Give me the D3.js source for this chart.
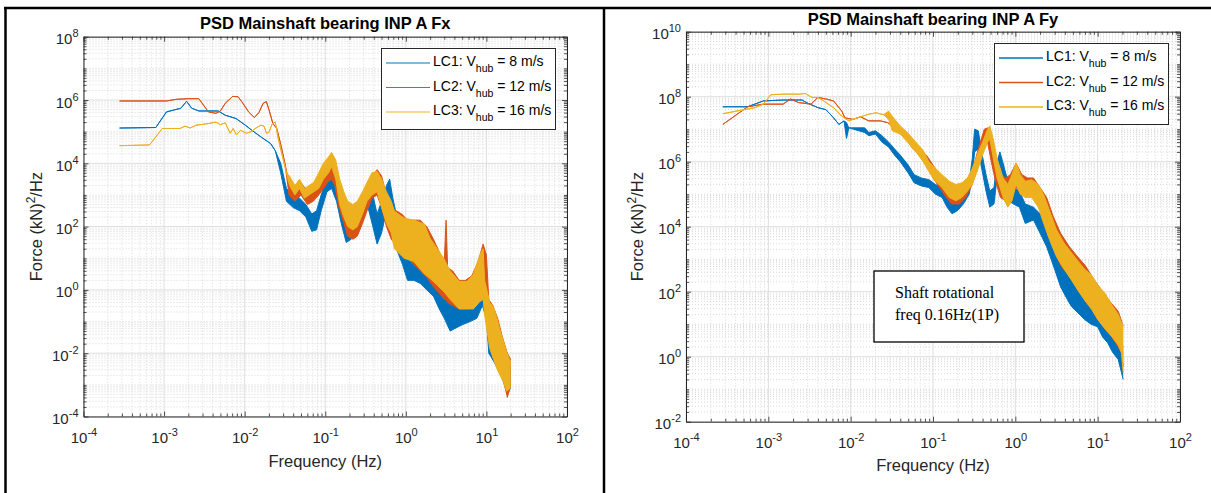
<!DOCTYPE html>
<html>
<head>
<meta charset="utf-8">
<script src="https://cdn.jsdelivr.net/npm/d3@7/dist/d3.min.js"></script>
<style>
html,body{margin:0;padding:0;background:#fff;}
svg{display:block;}
</style>
</head>
<body>
<svg id="chart" width="1211" height="493"></svg>
<script>
// ---------------- DATA ----------------
const seriesNames = ["LC1", "LC2", "LC3"];
const hubSpeeds = ["8", "12", "16"];
const seriesColors = ["#0072BD", "#D95319", "#EDB120"];
const xTickExps = [-4, -3, -2, -1, 0, 1, 2];
const fxTickExps = [-4, -2, 0, 2, 4, 6, 8];
const fyTickExps = [-2, 0, 2, 4, 6, 8, 10];
const titles = ["PSD Mainshaft bearing INP A Fx", "PSD Mainshaft bearing INP A Fy"];
const noteLines = ["Shaft rotational", "freq 0.16Hz(1P)"];

// [frequency Hz, lower envelope, upper envelope]  ((kN)^2/Hz)
const fxLC1 = [[2.8e-4,1.3e5,1.3e5],[7.9e-4,1.35e5,1.35e5],[1.07e-3,4.2e5,4.2e5],[1.62e-3,5.5e5,5.5e5],[1.9e-3,9.1e5,9.1e5],[2.2e-3,5.5e5,5.5e5],[2.7e-3,4.5e5,4.5e5],[4.7e-3,4.5e5,4.5e5],[5.75e-3,3.3e5,3.3e5],[7.8e-3,2.6e5,2.6e5],[1.02e-2,1.6e5,1.6e5],[1.23e-2,1.1e5,1.1e5],[1.62e-2,6.6e4,6.6e4],[2.1e-2,4.2e4,4.2e4],[2.4e-2,2.5e4,2.5e4],[2.8e-2,5.0e3,1.0e4],[3.3e-2,6.3e2,1.6e3],[4.0e-2,4.0e2,1.0e3],[4.8e-2,3.16e2,7.9e2],[5.75e-2,2.0e2,5.0e2],[6.8e-2,7.1e1,2.5e2],[7.8e-2,7.9e1,3.16e2],[8.9e-2,3.16e2,1.0e3],[0.105,1.26e3,3.55e3],[0.12,1.6e3,4.5e3],[0.138,6.3e2,2.0e3],[0.158,1.26e2,5.0e2],[0.182,3.16e1,1.6e2],[0.21,4.0e1,1.6e2],[0.24,7.9e1,3.16e2],[0.29,2.0e2,1.0e3],[0.34,4.0e2,2.0e3],[0.39,1.0e2,1.0e3],[0.44,2.8e1,2.5e2],[0.5,6.3e1,6.3e2],[0.575,3.16e2,2.0e3],[0.63,6.3e2,3.16e3],[0.69,7.9e1,7.9e2],[0.79,1.6e1,1.6e2],[0.91,6.3,6.3e1],[1.05,2.0,3.16e1],[1.26,2.0,2.5e1],[1.51,1.6,2.0e1],[1.82,1.0,1.26e1],[2.2,0.63,6.3],[2.6,0.25,3.16],[3.0,0.126,1.6],[3.55,0.05,0.79],[4.2,0.063,0.63],[5.0,0.079,0.63],[6.3,0.1,0.79],[7.6,0.126,1.6],[8.9,0.32,6.3],[10,0.126,2.0],[10.7,0.01,0.16],[12.6,0.005,0.079],[14.5,0.0025,0.032],[16.2,0.00126,0.0126],[18.2,0.0005,0.005],[20,0.0008,0.004]];
const fxLC2 = [[2.8e-4,9.3e5,9.3e5],[1.07e-3,9.3e5,9.3e5],[1.41e-3,1.05e6,1.05e6],[2.0e-3,1.1e6,1.1e6],[2.7e-3,1.1e6,1.1e6],[3.16e-3,6.3e5,6.3e5],[3.55e-3,4.2e5,4.2e5],[4.4e-3,3.8e5,3.8e5],[5.0e-3,4.5e5,4.5e5],[5.75e-3,7.9e5,7.9e5],[7.1e-3,1.3e6,1.3e6],[8.3e-3,1.26e6,1.26e6],[9.5e-3,7.9e5,7.9e5],[1.12e-2,4.2e5,4.2e5],[1.32e-2,2.8e5,2.8e5],[1.5e-2,4.0e5,4.0e5],[1.7e-2,7.9e5,7.9e5],[1.86e-2,8.9e5,8.9e5],[2.0e-2,5.0e5,5.0e5],[2.24e-2,1.8e5,1.8e5],[2.5e-2,1.26e5,1.26e5],[2.8e-2,4.0e4,4.0e4],[3.16e-2,1.0e4,1.0e4],[3.55e-2,1.0e3,2.5e3],[4.2e-2,6.3e2,1.6e3],[5.0e-2,1.0e3,2.5e3],[6.0e-2,5.0e2,1.26e3],[7.1e-2,6.3e2,1.6e3],[8.3e-2,1.0e3,2.5e3],[9.5e-2,1.6e3,5.0e3],[0.107,2.5e3,7.9e3],[0.12,3.16e3,1.0e4],[0.132,2.0e3,7.9e3],[0.148,4.0e2,2.0e3],[0.166,1.6e2,7.9e2],[0.19,5.0e1,4.0e2],[0.22,4.0e1,2.5e2],[0.25,5.0e1,3.16e2],[0.29,1.26e2,7.9e2],[0.33,3.16e2,2.0e3],[0.38,7.9e2,4.0e3],[0.44,1.0e3,6.3e3],[0.5,4.0e2,4.0e3],[0.575,1.0e2,1.0e3],[0.66,4.0e1,4.0e2],[0.76,2.5e1,3.16e2],[0.89,1.6e1,2.5e2],[1.05,1.0e1,1.6e2],[1.26,6.3,1.6e2],[1.51,4.0,1.6e2],[1.82,2.5,1.0e2],[2.2,1.26,4.0e1],[2.6,0.79,1.6e1],[3.0,0.5,7.9],[3.16,0.5,1.6e2],[3.3,0.4,5.0],[3.8,0.32,4.0],[4.6,0.25,2.0],[5.5,0.25,2.0],[6.6,0.28,2.8],[7.9,0.4,7.9],[9.1,0.5,2.8e1],[10,0.25,1.26e1],[10.7,0.04,0.5],[12,0.016,0.32],[13.8,0.005,0.126],[15.8,0.002,0.032],[18.2,0.0004,0.01],[20,0.001,0.0063]];
const fxLC3 = [[2.8e-4,3.6e4,3.6e4],[6.6e-4,3.8e4,3.8e4],[9.5e-4,1.26e5,1.26e5],[1.58e-3,1.26e5,1.26e5],[1.82e-3,1.5e5,1.5e5],[2.1e-3,1.3e5,1.3e5],[2.5e-3,1.6e5,1.6e5],[3.55e-3,1.8e5,1.8e5],[4.4e-3,2.0e5,2.0e5],[5.0e-3,1.66e5,1.66e5],[5.75e-3,1.9e5,1.9e5],[6.6e-3,8.9e4,8.9e4],[7.2e-3,1.26e5,1.26e5],[7.9e-3,7.9e4,7.9e4],[8.9e-3,1.1e5,1.1e5],[1.05e-2,8.9e4,8.9e4],[1.2e-2,1.0e5,1.0e5],[1.38e-2,1.3e5,1.3e5],[1.58e-2,1.6e5,1.6e5],[1.74e-2,1.5e5,1.5e5],[1.86e-2,8.9e4,8.9e4],[2.0e-2,9.5e4,9.5e4],[2.2e-2,1.8e5,1.8e5],[2.4e-2,2.0e5,2.0e5],[2.6e-2,6.3e4,6.3e4],[2.95e-2,1.6e4,1.6e4],[3.3e-2,5.0e3,5.0e3],[3.6e-2,2.0e3,4.0e3],[4.2e-2,1.0e3,2.0e3],[4.8e-2,1.6e3,3.16e3],[5.5e-2,7.9e2,1.6e3],[6.3e-2,1.0e3,2.0e3],[7.2e-2,1.26e3,2.5e3],[8.3e-2,1.6e3,5.0e3],[9.5e-2,3.16e3,1.0e4],[0.11,5.0e3,1.6e4],[0.12,7.9e3,2.2e4],[0.135,3.16e3,1.26e4],[0.151,5.0e2,3.16e3],[0.17,2.0e2,1.26e3],[0.19,1.0e2,6.3e2],[0.22,7.9e1,5.0e2],[0.25,1.0e2,6.3e2],[0.29,2.5e2,1.26e3],[0.33,6.3e2,2.5e3],[0.38,1.0e3,5.0e3],[0.44,1.26e3,5.6e3],[0.5,4.0e2,3.16e3],[0.575,1.26e2,1.26e3],[0.66,6.3e1,6.3e2],[0.72,2.0e1,3.1e2],[0.95,1.0e1,1.86e2],[1.26,7.9,1.6e2],[1.7,3.16,1.2e2],[2.0,2.3,4.3e1],[2.95,0.89,1.0e1],[3.55,0.5,4.0],[4.6,0.25,1.86],[5.75,0.25,1.86],[6.9,0.25,3.1],[8.3,0.43,1.3e1],[9.1,0.5,2.0e1],[9.5,0.16,2.0],[11,0.014,0.4],[12.3,0.0063,0.28],[13.5,0.0032,0.13],[14.5,0.0022,0.063],[16.2,0.00126,0.025],[17.8,0.00063,0.011],[20,0.0008,0.005]];

const fyLC1 = [[2.8e-4,4.9e7,4.9e7],[5.6e-4,4.9e7,4.9e7],[8.7e-4,7.4e7,7.4e7],[1.51e-3,7.9e7,7.9e7],[2.57e-3,7.9e7,7.9e7],[2.9e-3,6.6e7,6.6e7],[4.0e-3,4.6e7,4.6e7],[5.0e-3,4.0e7,4.0e7],[6.2e-3,2.24e7,2.24e7],[7.2e-3,1.4e7,1.4e7],[8.3e-3,1.8e7,1.8e7],[8.9e-3,5.2e6,1.6e7],[9.5e-3,1.1e7,1.1e7],[1.26e-2,8.9e6,1.1e7],[1.48e-2,7.9e6,1.1e7],[1.66e-2,6.3e6,7.9e6],[2.0e-2,7.1e6,8.9e6],[2.4e-2,4.0e6,6.3e6],[2.9e-2,2.8e6,4.0e6],[3.4e-2,1.6e6,2.5e6],[4.0e-2,1.0e6,1.6e6],[5.0e-2,4.5e5,7.9e5],[5.9e-2,2.24e5,4.0e5],[7.2e-2,1.8e5,3.16e5],[8.9e-2,1.6e5,2.8e5],[0.107,1.0e5,2.0e5],[0.129,7.9e4,1.6e5],[0.148,4.0e4,1.0e5],[0.17,2.5e4,6.3e4],[0.2,3.16e4,6.3e4],[0.234,5.0e4,1.26e5],[0.275,1.0e5,2.5e5],[0.3,3.16e5,1.26e6],[0.32,2.0e6,1.0e7],[0.355,2.5e6,8.9e6],[0.39,6.3e5,2.0e6],[0.44,1.26e5,4.0e5],[0.49,4.0e4,1.26e5],[0.55,5.0e4,1.6e5],[0.6,3.16e5,1.0e6],[0.65,7.9e5,2.0e6],[0.72,2.5e5,7.9e5],[0.83,6.3e4,2.0e5],[0.95,5.0e4,1.6e5],[1.12,4.0e4,1.26e5],[1.32,1.26e4,5.0e4],[1.66,1.6e4,4.0e4],[2.0,6.3e3,2.5e4],[2.4,2.4e3,1.26e4],[2.9,6.3e2,4.0e3],[3.55,1.4e2,2.0e3],[4.2,6.3e1,1.0e3],[4.8,3.5e1,5.0e2],[5.75,2.24e1,2.5e2],[6.9,1.4e1,1.26e2],[8.3,1.0e1,6.3e1],[10,8.3,3.16e1],[11.5,4.0,2.0e1],[13.2,2.7,1.26e1],[15.1,1.4,7.9],[17.8,0.81,4.0],[19.5,0.32,2.5],[20.4,0.2,2.0]];
const fyLC2 = [[2.8e-4,1.4e7,1.4e7],[5.6e-4,4.9e7,4.9e7],[8.7e-4,5.9e7,5.9e7],[1.51e-3,5.9e7,5.9e7],[1.86e-3,8.5e7,8.5e7],[2.34e-3,6.6e7,6.6e7],[3.3e-3,5.9e7,5.9e7],[4.0e-3,9.5e7,9.5e7],[5.0e-3,8.5e7,8.5e7],[6.2e-3,7.4e7,7.4e7],[7.8e-3,3.6e7,3.6e7],[8.5e-3,2.24e7,2.24e7],[1.07e-2,2.0e7,2.0e7],[1.32e-2,2.4e7,2.4e7],[1.66e-2,1.8e7,1.8e7],[2.3e-2,1.8e7,1.8e7],[2.8e-2,1.6e7,1.6e7],[3.55e-2,1.1e7,1.1e7],[4.4e-2,6.8e6,7.9e6],[5.5e-2,2.8e6,4.0e6],[6.8e-2,1.6e6,2.5e6],[8.3e-2,7.9e5,1.6e6],[0.1,3.16e5,7.9e5],[0.12,1.6e5,4.0e5],[0.145,7.9e4,2.5e5],[0.17,5.0e4,1.6e5],[0.21,5.0e4,1.6e5],[0.25,7.9e4,2.5e5],[0.3,2.0e5,5.0e5],[0.355,7.9e5,2.5e6],[0.42,3.16e6,1.0e7],[0.46,4.0e6,1.1e7],[0.51,1.0e6,4.0e6],[0.575,2.5e5,1.0e6],[0.66,7.9e4,4.0e5],[0.76,6.3e4,3.16e5],[0.87,7.9e4,4.0e5],[1.02,1.6e5,8.9e5],[1.2,1.0e5,4.0e5],[1.41,7.9e4,3.16e5],[1.66,1.0e5,3.16e5],[2.0,3.16e4,1.6e5],[2.4,7.9e3,7.9e4],[2.9,2.5e3,2.0e4],[3.55,6.3e2,6.3e3],[4.5,3.16e2,2.5e3],[5.6,1.6e2,1.26e3],[7.1,6.3e1,6.3e2],[8.9,2.5e1,2.5e2],[11.2,1.0e1,1.1e2],[14.1,5.0,5.0e1],[17.8,2.0,2.5e1],[19.5,1.26,1.26e1],[20.4,0.5,8.9]];
const fyLC3 = [[2.8e-4,3.0e7,3.0e7],[6.9e-4,4.6e7,4.6e7],[8.7e-4,5.9e7,5.9e7],[1.07e-3,1.15e8,1.15e8],[1.58e-3,1.2e8,1.2e8],[2.4e-3,1.2e8,1.2e8],[2.8e-3,1.26e8,1.26e8],[3.4e-3,9.5e7,9.5e7],[4.0e-3,9.5e7,9.5e7],[4.7e-3,7.4e7,7.4e7],[6.2e-3,4.6e7,4.6e7],[7.8e-3,2.5e7,2.5e7],[9.5e-3,1.8e7,1.8e7],[1.2e-2,2.24e7,2.24e7],[1.66e-2,2.9e7,2.9e7],[2.04e-2,3.2e7,3.2e7],[2.5e-2,2.8e7,2.8e7],[2.9e-2,2.0e7,3.6e7],[3.2e-2,8.9e6,2.5e7],[4.0e-2,7.1e6,1.26e7],[4.9e-2,4.0e6,7.9e6],[6.2e-2,2.0e6,4.0e6],[7.6e-2,1.0e6,2.24e6],[8.9e-2,5.0e5,1.0e6],[0.107,2.5e5,6.3e5],[0.129,1.6e5,4.0e5],[0.158,7.9e4,2.5e5],[0.19,6.3e4,2.0e5],[0.224,7.9e4,2.24e5],[0.263,1.26e5,3.16e5],[0.3,2.0e5,6.3e5],[0.355,6.3e5,2.0e6],[0.4,1.6e6,4.0e6],[0.46,4.0e6,1.0e7],[0.49,5.0e6,1.26e7],[0.54,1.26e6,5.0e6],[0.6,3.16e5,1.26e6],[0.71,7.9e4,3.16e5],[0.81,4.0e4,2.0e5],[0.91,6.3e4,4.0e5],[1.02,2.0e5,9.3e5],[1.15,1.0e5,4.0e5],[1.32,7.9e4,2.5e5],[1.58,7.9e4,2.8e5],[1.9,4.0e4,2.0e5],[2.2,1.3e4,1.0e5],[2.6,4.0e3,3.16e4],[3.16,1.2e3,8.1e3],[3.9,5.0e2,3.16e3],[4.8,2.3e2,1.6e3],[5.75,1.1e2,8.9e2],[6.9,5.6e1,5.0e2],[8.5,2.8e1,3.16e2],[10,1.4e1,1.6e2],[12.3,7.1,8.9e1],[14.8,4.2,4.0e1],[17.8,2.24,2.0e1],[19.5,1.3,1.1e1],[20.4,0.32,1.0e1]];

// ---------------- LAYOUT ----------------
const panels = [
  { title: titles[0], series: [fxLC1, fxLC2, fxLC3], yDomain: [1e-4, 1e8], yExps: fxTickExps,
    l: 83.5, r: 567, t: 36.7, b: 416.5, titleY: 29, xLabelY: 467, yLabelX: 42,
    legend: { x: 381, y: 48, w: 174, h: 81, lw: 1 }, note: null },
  { title: titles[1], series: [fyLC1, fyLC2, fyLC3], yDomain: [1e-2, 1e10], yExps: fyTickExps,
    l: 686, r: 1180, t: 31.7, b: 421.7, titleY: 25, xLabelY: 471, yLabelX: 643,
    legend: { x: 994, y: 43, w: 174, h: 81, lw: 1.3 }, note: { x: 874, y: 271, w: 150, h: 71 } }
];

const sansFont = "Liberation Sans, Arial, Helvetica, sans-serif";
const serifFont = "Liberation Serif, Times New Roman, serif";
const axisColor = "#262626";
const svg = d3.select("#chart").style("font-family", sansFont);
svg.append("rect").attr("width", 1211).attr("height", 493).attr("fill", "#fff");

function expStr(v) { const e = Math.round(Math.log10(v)); return (e < 0 ? "-" : "") + Math.abs(e); }

panels.forEach((p, pi) => {
  const g = svg.append("g");
  const x = d3.scaleLog().domain([1e-4, 1e2]).range([p.l, p.r]);
  const y = d3.scaleLog().domain(p.yDomain).range([p.b, p.t]);

  const xMajor = xTickExps.map(e => Math.pow(10, e));
  const xMinor = [];
  for (let e = xTickExps[0]; e < xTickExps[xTickExps.length - 1]; e++)
    for (let k = 2; k <= 9; k++) xMinor.push(k * Math.pow(10, e));
  const yMajor = p.yExps.map(e => Math.pow(10, e));
  const yMinor = [];
  for (let e = p.yExps[0]; e < p.yExps[p.yExps.length - 1]; e++)
    for (let k = 1; k <= 9; k++) {
      if (k === 1 && p.yExps.includes(e)) continue;
      yMinor.push(k * Math.pow(10, e));
    }

  g.append("rect").attr("x", p.l).attr("y", p.t).attr("width", p.r - p.l).attr("height", p.b - p.t).attr("fill", "#fff");

  // minor grid (dotted)
  const grid = g.append("g");
  grid.selectAll(".xm").data(xMinor).join("line")
    .attr("x1", d => x(d)).attr("x2", d => x(d)).attr("y1", p.t).attr("y2", p.b)
    .attr("stroke", "#cfcfcf").attr("stroke-width", 0.8).attr("stroke-dasharray", "1,2");
  grid.selectAll(".ym").data(yMinor).join("line")
    .attr("y1", d => y(d)).attr("y2", d => y(d)).attr("x1", p.l).attr("x2", p.r)
    .attr("stroke", "#cfcfcf").attr("stroke-width", 0.8).attr("stroke-dasharray", "1,2");
  // major grid
  grid.selectAll(".xM").data(xMajor).join("line")
    .attr("x1", d => x(d)).attr("x2", d => x(d)).attr("y1", p.t).attr("y2", p.b)
    .attr("stroke", "#dedede").attr("stroke-width", 1);
  grid.selectAll(".yM").data(yMajor).join("line")
    .attr("y1", d => y(d)).attr("y2", d => y(d)).attr("x1", p.l).attr("x2", p.r)
    .attr("stroke", "#dedede").attr("stroke-width", 1);

  // data
  const clipId = "clip" + pi;
  svg.append("clipPath").attr("id", clipId).append("rect")
    .attr("x", p.l).attr("y", p.t).attr("width", p.r - p.l).attr("height", p.b - p.t);
  const dg = g.append("g").attr("clip-path", `url(#${clipId})`);
  const area = d3.area().x(d => x(d[0])).y0(d => y(d[1])).y1(d => y(d[2]));
  const loLine = d3.line().x(d => x(d[0])).y(d => y(d[1]));
  const hiLine = d3.line().x(d => x(d[0])).y(d => y(d[2]));
  p.series.forEach((s, i) => {
    dg.append("path").datum(s).attr("d", area).attr("fill", seriesColors[i]).attr("stroke", "none");
    dg.append("path").datum(s).attr("d", loLine).attr("fill", "none").attr("stroke", seriesColors[i]).attr("stroke-width", 1).attr("stroke-linejoin", "round");
    dg.append("path").datum(s).attr("d", hiLine).attr("fill", "none").attr("stroke", seriesColors[i]).attr("stroke-width", 1).attr("stroke-linejoin", "round");
  });

  // axes (ticks inward on all four sides)
  const styleAxis = sel => {
    sel.select(".domain").attr("stroke", axisColor).attr("stroke-width", 1);
    sel.selectAll(".tick line").attr("stroke", axisColor).attr("stroke-width", 0.8);
  };
  const bottom = g.append("g").attr("transform", `translate(0,${p.b})`)
    .call(d3.axisBottom(x).tickValues(xMajor).tickSizeInner(-5).tickSizeOuter(0).tickFormat(() => "10"));
  bottom.call(styleAxis);
  bottom.selectAll("text").attr("y", 26.5).attr("dy", null).attr("fill", axisColor)
    .attr("font-size", 15).attr("font-family", sansFont)
    .each(function (d) { d3.select(this).append("tspan").attr("dy", -7).attr("font-size", 11).text(expStr(d)); });
  g.append("g").attr("transform", `translate(0,${p.b})`)
    .call(d3.axisBottom(x).tickValues(xMinor).tickSizeInner(-3).tickSizeOuter(0).tickFormat(""))
    .call(styleAxis).select(".domain").remove();

  g.append("g").attr("transform", `translate(0,${p.t})`)
    .call(d3.axisTop(x).tickValues(xMajor).tickSizeInner(-5).tickSizeOuter(0).tickFormat(""))
    .call(styleAxis);
  g.append("g").attr("transform", `translate(0,${p.t})`)
    .call(d3.axisTop(x).tickValues(xMinor).tickSizeInner(-3).tickSizeOuter(0).tickFormat(""))
    .call(styleAxis).select(".domain").remove();

  const left = g.append("g").attr("transform", `translate(${p.l},0)`)
    .call(d3.axisLeft(y).tickValues(yMajor).tickSizeInner(-5).tickSizeOuter(0).tickFormat(() => "10"));
  left.call(styleAxis);
  left.selectAll("text").attr("x", -5).attr("dy", null).attr("y", 7).attr("fill", axisColor)
    .attr("font-size", 15).attr("font-family", sansFont)
    .each(function (d) { d3.select(this).append("tspan").attr("dy", -7).attr("font-size", 11).text(expStr(d)); });
  g.append("g").attr("transform", `translate(${p.l},0)`)
    .call(d3.axisLeft(y).tickValues(yMinor).tickSizeInner(-3).tickSizeOuter(0).tickFormat(""))
    .call(styleAxis).select(".domain").remove();

  g.append("g").attr("transform", `translate(${p.r},0)`)
    .call(d3.axisRight(y).tickValues(yMajor).tickSizeInner(-5).tickSizeOuter(0).tickFormat(""))
    .call(styleAxis);
  g.append("g").attr("transform", `translate(${p.r},0)`)
    .call(d3.axisRight(y).tickValues(yMinor).tickSizeInner(-3).tickSizeOuter(0).tickFormat(""))
    .call(styleAxis).select(".domain").remove();

  // title
  g.append("text").attr("x", (p.l + p.r) / 2).attr("y", p.titleY).attr("text-anchor", "middle")
    .attr("font-size", 16.5).attr("font-weight", "bold").attr("fill", "#000").text(p.title);
  // x label
  g.append("text").attr("x", (p.l + p.r) / 2).attr("y", p.xLabelY).attr("text-anchor", "middle")
    .attr("font-size", 16.5).attr("fill", axisColor).text("Frequency (Hz)");
  // y label
  const yl = g.append("text").attr("transform", `translate(${p.yLabelX},${(p.t + p.b) / 2}) rotate(-90)`)
    .attr("text-anchor", "middle").attr("font-size", 16.5).attr("fill", axisColor);
  yl.append("tspan").text("Force (kN)");
  yl.append("tspan").attr("dy", -7).attr("font-size", 12).text("2");
  yl.append("tspan").attr("dy", 7).text("/Hz");

  // legend
  const L = p.legend;
  const lg = g.append("g");
  lg.append("rect").attr("x", L.x + 0.5).attr("y", L.y + 0.5).attr("width", L.w).attr("height", L.h)
    .attr("fill", "#fff").attr("stroke", axisColor).attr("stroke-width", 1);
  const rowOff = [15, 39.5, 64];
  seriesNames.forEach((name, i) => {
    const ly = L.y + rowOff[i];
    lg.append("line").attr("x1", L.x + 5).attr("x2", L.x + 49).attr("y1", ly).attr("y2", ly)
      .attr("stroke", seriesColors[i]).attr("stroke-width", L.lw);
    const t = lg.append("text").attr("x", L.x + 52).attr("y", ly + 3).attr("font-size", 14).attr("fill", "#000");
    t.append("tspan").text(name + ": V");
    t.append("tspan").attr("dy", 6).attr("font-size", 10.5).text("hub");
    t.append("tspan").attr("dy", -6).text(" = " + hubSpeeds[i] + " m/s");
  });

  // annotation box
  if (p.note) {
    const N = p.note;
    g.append("rect").attr("x", N.x).attr("y", N.y).attr("width", N.w).attr("height", N.h)
      .attr("fill", "#fff").attr("stroke", "#000").attr("stroke-width", 1.3);
    noteLines.forEach((s, i) => {
      g.append("text").attr("x", N.x + 21).attr("y", N.y + 27 + i * 22)
        .style("font-family", serifFont).attr("font-size", 16)
        .attr("fill", "#000").text(s);
    });
  }
});

// outer frame (table borders)
const frame = svg.append("g").attr("stroke", "#000").attr("stroke-width", 2.5);
frame.append("line").attr("x1", 4).attr("x2", 1211).attr("y1", 8).attr("y2", 8);
frame.append("line").attr("x1", 5.5).attr("x2", 5.5).attr("y1", 7).attr("y2", 493);
frame.append("line").attr("x1", 604).attr("x2", 604).attr("y1", 7).attr("y2", 493);
</script>
</body>
</html>
